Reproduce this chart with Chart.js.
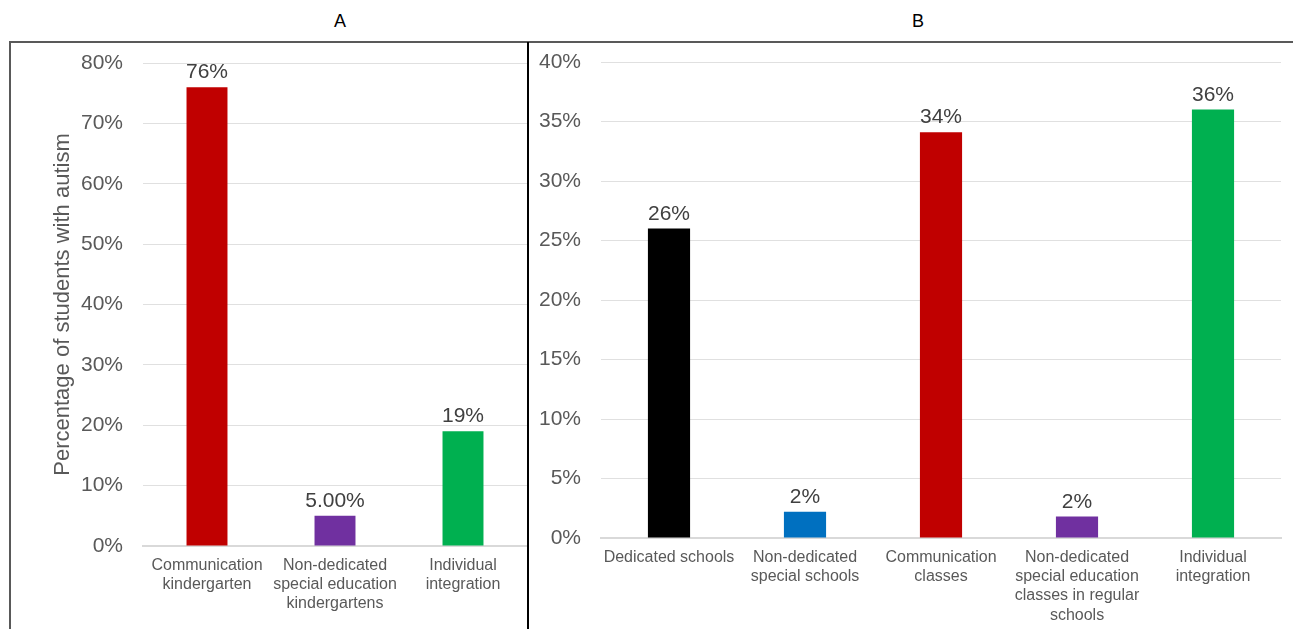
<!DOCTYPE html>
<html>
<head>
<meta charset="utf-8">
<script src="https://cdn.jsdelivr.net/npm/chart.js@4.4.0/dist/chart.umd.min.js"></script>
<style>
  body { margin: 0; background: #fff; width: 1293px; height: 629px; overflow: hidden; position: relative; font-family: "Liberation Sans", Arial, sans-serif; }
  .titulo { position: absolute; top: 11px; font-size: 18px; color: #000; transform: translateX(-50%); }
  #moldura { position: absolute; left: 9px; top: 41px; width: 1290px; height: 600px; border-top: 2px solid #595959; border-left: 2px solid #595959; }
  #separador { position: absolute; left: 527px; top: 42px; width: 2px; height: 600px; background: #000; }
  #boxA { position: absolute; left: 11px; top: 43px; width: 516px; height: 586px; }
  #boxB { position: absolute; left: 529px; top: 43px; width: 764px; height: 586px; }
</style>
</head>
<body>
<div class="titulo" style="left:340px">A</div>
<div class="titulo" style="left:918px">B</div>
<div id="moldura"></div>
<div id="separador"></div>
<div id="boxA"><canvas id="grafA" width="516" height="586"></canvas></div>
<div id="boxB"><canvas id="grafB" width="764" height="586"></canvas></div>
<script>
// Painel A - jardins de infância
const categoriasA = [
  ["Communication", "kindergarten"],
  ["Non-dedicated", "special education", "kindergartens"],
  ["Individual", "integration"],
];
const valoresA = [76, 5, 19];
const rotulosA = ["76%", "5.00%", "19%"];
const coresA = ["#c00000", "#7030a0", "#00b050"];

// Painel B - escolas
const categoriasB = [
  "Dedicated schools",
  ["Non-dedicated", "special schools"],
  ["Communication", "classes"],
  ["Non-dedicated", "special education", "classes in regular", "schools"],
  ["Individual", "integration"],
];
const valoresB = [26, 2.2, 34.1, 1.8, 36];
const rotulosB = ["26%", "2%", "34%", "2%", "36%"];
const coresB = ["#000000", "#0070c0", "#c00000", "#7030a0", "#00b050"];

const tituloEixoY = "Percentage of students with autism";

const fonte = "'Liberation Sans', Arial, sans-serif";

// escreve o valor em cima de cada barra
const pluginRotulos = {
  id: "rotulos",
  afterDatasetsDraw(chart, args, opts) {
    const ctx = chart.ctx;
    const meta = chart.getDatasetMeta(0);
    ctx.save();
    ctx.font = "21px " + fonte;
    ctx.fillStyle = "#404040";
    ctx.textAlign = "center";
    ctx.textBaseline = "alphabetic";
    meta.data.forEach((barra, i) => {
      ctx.fillText(opts.textos[i], barra.x, barra.y - 9);
    });
    ctx.restore();
  },
};

function montarGrafico(id, categorias, valores, rotulos, cores, max, passo, larguraY, alturaX, padding, largBarra, tituloY) {
  const dados = {
    labels: categorias,
    datasets: [
      {
        data: valores,
        backgroundColor: cores,
        categoryPercentage: 1,
        barPercentage: largBarra,
      },
    ],
  };

  const config = {
    type: "bar",
    data: dados,
    plugins: [pluginRotulos],
    options: {
      responsive: false,
      animation: false,
      layout: { padding: padding },
      plugins: {
        legend: { display: false },
        tooltip: { enabled: false },
        rotulos: { textos: rotulos },
      },
      scales: {
        x: {
          grid: { display: false },
          border: { display: true, color: "#d9d9d9", width: 2 },
          ticks: {
            color: "#595959",
            font: { family: fonte, size: 16 },
            maxRotation: 0,
            autoSkip: false,
            padding: 2,
          },
          afterFit: (s) => { s.height = alturaX; },
        },
        y: {
          min: 0,
          max: max,
          // o tracinho fica invisivel, so serve para afastar o texto da grade
          grid: { color: "#e0e0e0", lineWidth: 1, drawTicks: true, tickLength: 20, tickColor: "rgba(0,0,0,0)" },
          border: { display: false },
          ticks: {
            stepSize: passo,
            color: "#595959",
            font: { family: fonte, size: 21 },
            padding: 0,
            callback: (v) => v + "%",
          },
          title: {
            display: tituloY != null,
            text: tituloY,
            color: "#595959",
            font: { family: fonte, size: 22 },
            padding: { top: 39, bottom: 0 },
          },
          afterFit: (s) => { s.width = larguraY; },
        },
      },
    },
  };

  return new Chart(document.getElementById(id), config);
}

const graficoA = montarGrafico("grafA", categoriasA, valoresA, rotulosA, coresA, 80, 10, 132, 83,
  { top: 20, right: 0, bottom: 0, left: 0 }, 0.32, tituloEixoY);
const graficoB = montarGrafico("grafB", categoriasB, valoresB, rotulosB, coresB, 40, 5, 72, 91,
  { top: 19, right: 12, bottom: 0, left: 0 }, 0.31, null);
</script>
</body>
</html>
